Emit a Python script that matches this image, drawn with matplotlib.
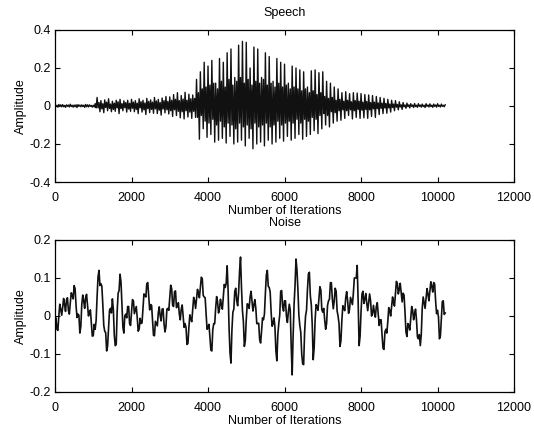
import numpy as np
import matplotlib
matplotlib.use("Agg")
import matplotlib.pyplot as plt

plt.rcParams['font.family'] = ['Liberation Sans', 'DejaVu Sans']

# sample spacing of the stored waveforms (iterations)
step = 25

# speech waveform, four samples per 100 iterations
speech = [
    0.005, -0.003, 0.004, -0.006,   0.008, -0.002, 0.006, -0.004,
    0.007, -0.004, 0.003, -0.007,   0.006, -0.002, 0.005, -0.005,
    0.009, -0.003, 0.004, -0.006,   0.005, -0.004, 0.006, -0.008,
    0.007, -0.002, 0.005, -0.004,   0.006, -0.003, 0.004, -0.007,
    0.008, -0.004, 0.006, -0.005,   0.006, -0.002, 0.003, -0.006,
    0.004, -0.005, 0.012, -0.010,
    0.045, -0.010, 0.018, -0.030,   0.028, -0.015, 0.012, -0.035,
    0.032, -0.008, 0.020, -0.025,   0.038, -0.012, 0.010, -0.030,
    0.025, -0.018, 0.015, -0.028,   0.030, -0.010, 0.022, -0.040,
    0.035, -0.014, 0.012, -0.025,   0.027, -0.009, 0.018, -0.032,
    0.030, -0.016, 0.014, -0.028,
    0.035, -0.012, 0.020, -0.030,   0.028, -0.018, 0.015, -0.040,
    0.038, -0.010, 0.022, -0.032,   0.030, -0.020, 0.016, -0.045,
    0.040, -0.014, 0.024, -0.035,   0.032, -0.018, 0.020, -0.038,
    0.045, -0.015, 0.026, -0.040,   0.035, -0.022, 0.018, -0.048,
    0.042, -0.016, 0.028, -0.036,   0.050, -0.020, 0.024, -0.042,
    0.048, -0.025, 0.030, -0.055,   0.060, -0.020, 0.035, -0.050,
    0.070, -0.028, 0.028, -0.062,   0.055, -0.030, 0.036, -0.068,
    0.072, -0.025, 0.030, -0.058,   0.062, -0.032, 0.038, -0.065,
    0.058, -0.028, 0.040, -0.060,
    0.140, -0.060, 0.070, -0.175,   0.180, -0.050, 0.090, -0.120,
    0.230, -0.080, 0.100, -0.165,
    0.210, -0.090, 0.110, -0.150,   0.240, -0.070, 0.120, -0.190,
    0.120, -0.100, 0.090, -0.180,   0.250, -0.080, 0.130, -0.170,
    0.230, -0.110, 0.100, -0.195,
    0.280, -0.090, 0.140, -0.160,   0.300, -0.100, 0.110, -0.200,
    0.150, -0.120, 0.130, -0.190,   0.320, -0.090, 0.150, -0.180,
    0.340, -0.110, 0.120, -0.210,
    0.335, -0.100, 0.140, -0.170,   0.200, -0.120, 0.110, -0.225,
    0.310, -0.090, 0.130, -0.200,   0.300, -0.110, 0.120, -0.190,
    0.150, -0.100, 0.140, -0.210,
    0.280, -0.090, 0.110, -0.180,   0.260, -0.110, 0.120, -0.200,
    0.130, -0.100, 0.100, -0.190,   0.250, -0.080, 0.120, -0.170,
    0.230, -0.100, 0.100, -0.185,
    0.220, -0.090, 0.110, -0.160,   0.120, -0.080, 0.090, -0.180,
    0.210, -0.090, 0.100, -0.170,   0.200, -0.070, 0.090, -0.150,
    0.190, -0.090, 0.080, -0.175,
    0.180, -0.070, 0.090, -0.160,   0.100, -0.080, 0.070, -0.150,
    0.185, -0.060, 0.080, -0.130,   0.190, -0.070, 0.060, -0.145,
    0.175, -0.050, 0.070, -0.120,
    0.180, -0.040, 0.050, -0.100,   0.130, -0.050, 0.040, -0.110,
    0.120, -0.030, 0.045, -0.090,   0.100, -0.035, 0.030, -0.080,
    0.090, -0.025, 0.035, -0.075,
    0.070, -0.020, 0.025, -0.065,   0.075, -0.025, 0.030, -0.050,
    0.065, -0.020, 0.022, -0.068,   0.070, -0.025, 0.028, -0.060,
    0.068, -0.018, 0.025, -0.065,
    0.065, -0.022, 0.020, -0.062,   0.060, -0.018, 0.024, -0.065,
    0.058, -0.020, 0.018, -0.055,   0.055, -0.015, 0.020, -0.060,
    0.050, -0.014, 0.016, -0.045,
    0.045, -0.012, 0.015, -0.040,   0.040, -0.010, 0.012, -0.038,
    0.035, -0.010, 0.010, -0.032,   0.030, -0.008, 0.010, -0.025,
    0.028, -0.006, 0.008, -0.020,
    0.022, -0.005, 0.006, -0.018,   0.018, -0.004, 0.005, -0.012,
    0.015, -0.003, 0.006, -0.010,   0.012, -0.002, 0.005, -0.008,
    0.013, -0.003, 0.004, -0.007,
    0.012, -0.002, 0.005, -0.006,   0.010, -0.003, 0.004, -0.008,
    0.012, -0.002, 0.005, -0.005,   0.011, -0.003, 0.004, -0.007,
    0.010, -0.002, 0.005, -0.006,
    0.012, -0.002, 0.004, -0.005,   0.010, -0.002, 0.004, -0.004,
    0.006,
]

# background noise, same sample spacing
noise = [
    -0.010, -0.005, -0.035, -0.038, 0.000, 0.031, 0.018, 0.002, 0.022, 0.046,
    0.030, 0.012, 0.042, 0.048, 0.015, 0.005, 0.035, 0.061, 0.055, 0.045,
    0.080, 0.072, 0.028, -0.004, 0.005, 0.002, -0.045, -0.028, 0.030, 0.055,
    0.040, 0.020, 0.048, 0.057, 0.030, 0.000, 0.010, 0.016, -0.018, -0.053,
    -0.052, -0.022, -0.035, -0.012, 0.050, 0.103, 0.120, 0.080, 0.085, 0.078,
    0.030, -0.025, -0.040, -0.044, -0.092, -0.079, -0.030, 0.015, 0.020, 0.008,
    0.045, 0.018, -0.050, -0.078, -0.075, 0.012, 0.060, 0.067, 0.110, 0.090,
    0.030, -0.030, -0.045, 0.000, 0.005, -0.005, 0.025, 0.025, -0.020, -0.025,
    0.010, 0.043, 0.040, 0.006, 0.015, 0.025, -0.005, -0.040, -0.035, -0.006,
    -0.020, -0.018, 0.020, 0.058, 0.055, 0.050, 0.085, 0.088, 0.050, 0.016,
    0.030, 0.028, -0.010, -0.051, -0.052, -0.014, -0.020, -0.026, 0.008, 0.024,
    0.000, -0.013, 0.018, 0.019, -0.020, -0.042, -0.028, 0.018, 0.020, 0.015,
    0.050, 0.081, 0.072, 0.028, 0.025, 0.064, 0.066, 0.022, 0.025, 0.035,
    0.005, -0.010, 0.018, 0.029, 0.000, -0.030, -0.020, -0.030, -0.075, -0.072,
    -0.030, 0.003, -0.008, -0.015, 0.018, 0.049, 0.040, 0.020, 0.045, 0.070,
    0.060, 0.048, 0.075, 0.102, 0.098, 0.054, 0.050, 0.048, 0.005, -0.035,
    -0.030, -0.022, -0.055, -0.090, -0.092, -0.036, -0.020, -0.020, 0.020, 0.051,
    0.038, 0.008, 0.018, 0.044, 0.030, 0.018, 0.050, 0.083, 0.075, 0.086,
    0.132, 0.069, -0.030, -0.097, -0.124, -0.037, 0.010, 0.018, 0.065, 0.073,
    0.040, 0.027, 0.062, 0.118, 0.155, 0.075, 0.015, -0.015, -0.080, -0.065,
    -0.010, 0.032, 0.030, 0.020, 0.050, 0.065, 0.040, 0.013, 0.030, 0.043,
    0.020, -0.020, -0.020, -0.019, -0.062, -0.071, -0.040, -0.005, -0.010, 0.005,
    0.060, 0.108, 0.120, 0.078, 0.075, 0.063, 0.010, -0.027, -0.020, -0.005,
    -0.030, -0.092, -0.118, -0.049, -0.020, 0.003, 0.065, 0.067, 0.025, 0.013,
    0.040, 0.040, 0.000, -0.017, 0.010, 0.031, 0.015, -0.080, -0.155, -0.053,
    0.030, 0.080, 0.150, 0.122, 0.070, 0.003, -0.025, -0.043, -0.100, -0.126,
    -0.128, -0.044, 0.000, 0.015, 0.070, 0.111, 0.115, 0.053, 0.030, -0.023,
    -0.115, -0.083, -0.010, 0.030, 0.025, 0.015, 0.045, 0.077, 0.068, 0.017,
    0.010, 0.020, -0.010, -0.035, -0.020, 0.028, 0.040, 0.044, 0.088, 0.087,
    0.045, 0.019, 0.040, 0.073, 0.065, 0.013, 0.000, -0.020, -0.080, -0.065,
    -0.010, 0.027, 0.020, 0.014, 0.048, 0.064, 0.040, 0.007, 0.018, 0.049,
    0.040, 0.030, 0.060, 0.100, 0.100, 0.100, 0.133, 0.038, -0.078, -0.054,
    0.010, 0.058, 0.065, 0.033, 0.045, 0.059, 0.033, 0.014, 0.035, 0.058,
    0.040, 0.000, 0.005, 0.028, 0.010, -0.003, 0.025, 0.035, 0.005, -0.025,
    -0.010, -0.010, -0.050, -0.085, -0.088, -0.042, -0.035, -0.045, -0.015, 0.022,
    0.015, 0.000, 0.025, 0.050, 0.035, 0.026, 0.060, 0.091, 0.085, 0.058,
    0.070, 0.086, 0.062, 0.037, 0.060, 0.055, 0.010, -0.042, -0.054, -0.020,
    -0.025, -0.037, -0.005, 0.025, 0.015, -0.010, 0.005, 0.018, -0.010, -0.055,
    -0.060, -0.049, -0.078, -0.049, 0.020, 0.050, 0.035, 0.020, 0.045, 0.072,
    0.058, 0.040, 0.065, 0.090, 0.078, 0.063, 0.088, 0.084, 0.040, 0.006,
    0.015, -0.003, -0.060, -0.053, -0.005, 0.038, 0.040, 0.004, 0.008,
]

x_ticks = [0, 2000, 4000, 6000, 8000, 10000, 12000]
speech_yticks = [-0.4, -0.2, 0, 0.2, 0.4]
noise_yticks = [-0.2, -0.1, 0, 0.1, 0.2]

fig = plt.figure(figsize=(5.34, 4.32), dpi=100)
ax1 = fig.add_axes([0.103, 0.5787, 0.8596, 0.3519])
ax2 = fig.add_axes([0.103, 0.0926, 0.8596, 0.3519])


def style(ax, yticks, title):
    ax.set_xlim(0, 12000)
    ax.set_ylim(yticks[0], yticks[-1])
    ax.set_xticks(x_ticks)
    ax.set_yticks(yticks)
    ax.set_yticklabels([f"{t:g}" for t in yticks])
    ax.tick_params(direction='in', length=3.5, width=0.8, labelsize=9,
                   top=True, right=True)
    ax.tick_params(axis='x', pad=7)
    ax.tick_params(axis='y', pad=3)
    for sp in ax.spines.values():
        sp.set_linewidth(0.9)
    ax.set_xlabel("Number of Iterations", fontsize=9, labelpad=1)
    ax.set_ylabel("Amplitude", fontsize=9, labelpad=2)
    ax.set_title(title, fontsize=9, pad=10)


xs = np.arange(len(speech)) * step
ax1.plot(xs, speech, color='#111111', linewidth=1.0)
style(ax1, speech_yticks, "Speech")

xn = np.arange(len(noise)) * step
ax2.plot(xn, noise, color='#111111', linewidth=1.2)
style(ax2, noise_yticks, "Noise")

fig.savefig("out.png", dpi=100)
